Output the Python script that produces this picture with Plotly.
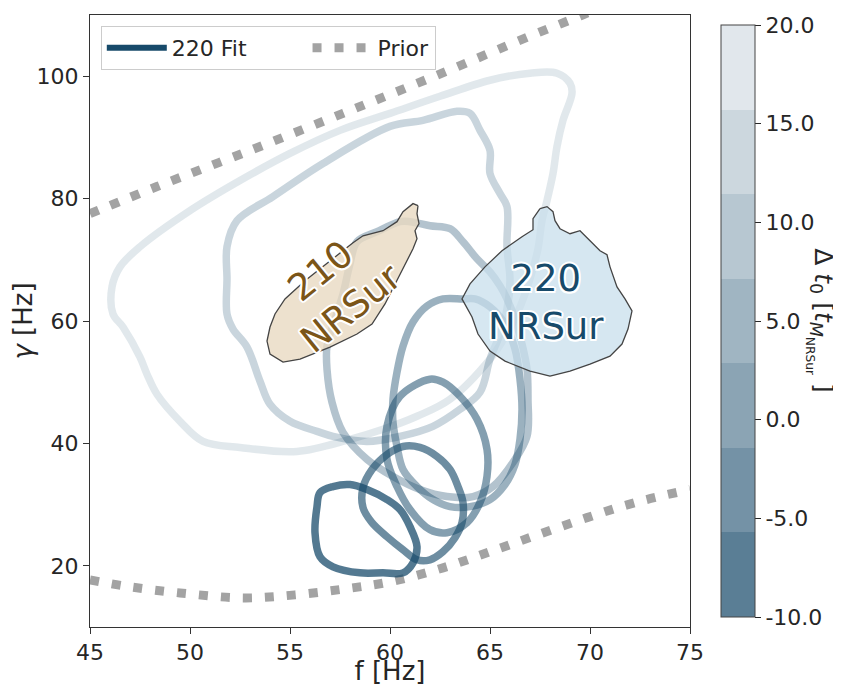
import plotly.graph_objects as go

# ---------------------------------------------------------------
# data (f in Hz, gamma in Hz)
# ---------------------------------------------------------------

band_edges = [-10, -5.71, -1.43, 2.86, 7.14, 11.43, 15.71, 20]
cbar_ticks = [-10, -5, 0, 5, 10, 15, 20]
cbar_ticktext = ["-10.0", "-5.0", "0.0", "5.0", "10.0", "15.0", "20.0"]

fit_f = [
    [56.35, 56.5, 57.15, 58.0, 58.85, 59.85, 60.5, 61.0, 61.35, 61.15, 60.65, 59.65,
     58.5, 57.15, 56.5, 56.25],
    [58.65, 59.1, 59.85, 60.65, 61.5, 62.35, 63.0, 63.4, 63.65, 63.6, 63.25, 62.65,
     62.0, 61.35, 60.65, 59.85, 59.1, 58.65],
    [62.0, 60.5, 59.85, 59.85, 60.35, 61.0, 62.0, 62.85, 63.85, 64.5, 64.85, 64.85,
     64.35, 63.5, 62.65],
    [63.65, 62.65, 61.85, 61.15, 60.65, 60.35, 60.15, 60.15, 60.35, 60.65, 61.35, 62.15,
     63.0, 64.0, 65.0, 65.75, 66.25, 66.5, 66.6, 66.5, 66.25, 65.75, 65.0, 64.25],
    [58.35, 59.35, 60.5, 61.0, 62.0, 63.0, 63.65, 64.35, 65.0, 65.5, 65.85, 66.25,
     66.6, 66.85, 66.9, 66.85, 66.15, 65.15, 64.15, 62.85, 61.5, 60.15, 58.85, 57.65,
     57.1, 56.85, 56.85, 57.25, 57.65, 58.0],
    [51.85, 51.85, 51.85, 52.35, 54.15, 56.65, 60.0, 61.65, 63.35, 64.0, 64.5, 65.0,
     65.0, 65.5, 65.85, 65.85, 66.0, 65.85, 65.5, 65.0, 64.5, 63.5, 62.15, 60.5, 58.85,
     57.15, 56.35, 55.0, 54.0, 53.5, 52.85, 52.15],
    [46.15, 46.1, 46.5, 47.5, 50.0, 52.5, 55.0, 57.5, 60.0, 62.5, 65.0, 67.0, 68.35,
     69.0, 69.1, 68.65, 68.35, 68.15, 67.85, 67.6, 67.4, 67.0, 66.4, 65.75, 65.0, 63.0,
     61.35, 59.65, 58.0, 55.35, 52.5, 50.65, 49.5, 48.35, 47.85, 47.5, 46.65],
]
fit_g = [
    [29.67, 31.97, 32.95, 33.28, 32.46, 30.82, 29.18, 26.39, 23.11, 20.49, 18.85, 18.85,
     18.85, 19.84, 21.48, 25.41],
    [32.79, 35.74, 38.2, 39.5, 39.34, 37.87, 35.74, 32.95, 30.33, 27.05, 24.59, 22.3,
     20.98, 20.98, 22.62, 24.75, 27.05, 29.51],
    [50.49, 47.7, 42.79, 37.38, 32.95, 29.18, 25.9, 25.41, 27.05, 30.33, 34.59, 39.02,
     43.93, 47.7, 50.0],
    [63.61, 63.61, 62.46, 59.84, 55.9, 51.64, 47.21, 43.44, 39.51, 35.74, 32.95, 30.82,
     29.67, 29.67, 30.82, 33.28, 36.56, 40.66, 45.57, 50.49, 55.41, 59.51, 62.3, 63.61],
    [72.95, 74.59, 76.23, 76.23, 75.57, 75.08, 72.95, 70.16, 68.03, 65.74, 63.61, 60.33,
     56.23, 52.13, 47.21, 41.15, 36.89, 32.95, 31.31, 31.31, 32.46, 34.59, 37.38, 41.8,
     46.72, 52.13, 55.9, 60.33, 64.43, 69.34],
    [61.15, 66.89, 72.13, 76.39, 80.33, 85.74, 91.8, 92.79, 94.26, 93.93, 91.15, 87.87,
     84.1, 80.82, 78.69, 72.13, 66.56, 61.97, 57.87, 53.77, 48.36, 45.57, 42.79, 41.15,
     40.33, 41.15, 41.97, 43.61, 46.39, 50.16, 55.74, 58.69],
    [61.15, 65.57, 68.85, 72.13, 78.03, 82.95, 87.38, 91.15, 93.93, 96.72, 99.34, 100.49,
     100.49, 98.85, 97.21, 92.79, 88.52, 84.1, 79.67, 76.39, 71.8, 66.89, 61.5, 57.4,
     53.77, 47.21, 44.43, 42.3, 40.66, 38.69, 39.34, 40.33, 43.61, 48.03, 51.31, 54.1,
     59.02],
]

prior_hi_f = [45.0, 48.35, 53.0, 57.65, 62.35, 67.0, 69.5, 71.0]
prior_hi_g = [77.54, 81.97, 87.87, 93.93, 100.16, 106.56, 109.84, 112.0]
prior_lo_f = [45.0, 47.0, 49.5, 52.65, 55.25, 57.75, 60.0, 62.65, 65.0, 67.4, 69.85, 72.25, 75.0]
prior_lo_g = [17.7, 16.56, 15.57, 14.75, 15.25, 16.23, 17.38, 19.67, 22.3, 25.08, 27.87, 30.33, 32.46]

nr210_f = [61.4, 61.15, 60.65, 60.35, 59.65, 58.65, 58.15, 57.0, 55.75, 54.75, 54.25, 54.0,
           53.85, 54.0, 54.65, 55.5, 57.0, 58.35, 59.1, 59.75, 60.5, 61.15, 61.35, 61.25,
           61.45, 61.35, 61.4]
nr210_g = [78.85, 79.18, 77.87, 76.23, 74.75, 73.93, 72.79, 69.84, 66.56, 63.61, 61.15, 59.02,
           56.72, 54.59, 53.28, 53.77, 55.74, 57.87, 59.51, 62.79, 67.7, 71.8, 73.44, 74.75,
           75.9, 77.54, 78.85]

nr220_f = [67.5, 67.85, 68.15, 68.25, 68.5, 69.0, 69.5, 70.0, 70.5, 70.85, 71.0, 71.35,
           71.75, 72.1, 71.9, 71.6, 71.0, 70.0, 69.0, 68.0, 67.0, 65.75, 65.0, 64.4, 64.1,
           63.6, 64.0, 64.75, 65.6, 66.6, 67.15, 67.15, 67.5]
nr220_g = [78.36, 78.69, 77.87, 76.39, 75.08, 74.26, 74.75, 73.11, 71.48, 70.82, 68.85, 65.57,
           63.61, 61.64, 58.69, 56.23, 54.26, 52.95, 51.8, 50.98, 51.8, 53.44, 55.08, 57.87,
           60.66, 63.61, 66.07, 68.85, 71.48, 73.77, 74.92, 76.72, 78.36]

# ---------------------------------------------------------------
# colours
# ---------------------------------------------------------------

NAVY = (23, 74, 106)
alphas = [0.74, 0.63, 0.53, 0.43, 0.33, 0.23, 0.13]
band_alphas = [0.71, 0.60, 0.50, 0.41, 0.31, 0.22, 0.13]


def navy(a):
    return f"rgba({NAVY[0]},{NAVY[1]},{NAVY[2]},{a})"


def blend(a):
    r, g, b = (round(255 - a * (255 - c)) for c in NAVY)
    return f"rgb({r},{g},{b})"


lo, hi = band_edges[0], band_edges[-1]
colorscale = []
for i in range(len(band_alphas)):
    c = blend(band_alphas[i])
    colorscale.append([(band_edges[i] - lo) / (hi - lo), c])
    colorscale.append([(band_edges[i + 1] - lo) / (hi - lo), c])

FONT = "DejaVu Sans"
INK = "#262626"
NBSP = "\u00a0"

fig = go.Figure()

# legend proxy for the fit (first, so it leads the legend)
fig.add_trace(go.Scatter(
    x=[None], y=[None], mode="lines", name="220 Fit" + NBSP * 8,
    line=dict(color="#174a6a", width=6)
))

# prior bounds
for xs, ys, show in [(prior_hi_f, prior_hi_g, True), (prior_lo_f, prior_lo_g, False)]:
    fig.add_trace(go.Scatter(
        x=xs, y=ys, mode="lines", name="Prior", showlegend=show,
        line=dict(color="#a3a3a3", width=9, dash="9px,13px", shape="spline"),
        hoverinfo="skip"
    ))

# fit contours, lightest first so dark ones sit on top
for k in reversed(range(len(fit_f))):
    xs = fit_f[k] + fit_f[k][:1]
    ys = fit_g[k] + fit_g[k][:1]
    fig.add_trace(go.Scatter(
        x=xs, y=ys, mode="lines", showlegend=False,
        line=dict(color=navy(alphas[k]), width=7.5, shape="spline", smoothing=1.0),
        hoverinfo="skip"
    ))

# NRSur regions
fig.add_trace(go.Scatter(
    x=nr210_f, y=nr210_g, mode="lines", fill="toself", showlegend=False,
    fillcolor="rgba(233,218,194,0.8)", line=dict(color="#444444", width=1.3),
    hoverinfo="skip"
))
fig.add_trace(go.Scatter(
    x=nr220_f, y=nr220_g, mode="lines", fill="toself", showlegend=False,
    fillcolor="rgba(200,223,236,0.75)", line=dict(color="#444444", width=1.3),
    hoverinfo="skip"
))

# colourbar carrier (point sits outside the axes)
fig.add_trace(go.Scatter(
    x=[40], y=[0], mode="markers", showlegend=False, hoverinfo="skip",
    marker=dict(
        color=[0], colorscale=colorscale, cmin=lo, cmax=hi, showscale=True,
        colorbar=dict(
            x=1.035, xanchor="left", y=0.5, yanchor="middle", len=1, lenmode="fraction",
            thickness=34, outlinecolor="#444444", outlinewidth=1,
            tickvals=cbar_ticks, ticktext=cbar_ticktext,
            ticks="outside", ticklen=6, tickcolor=INK,
            tickfont=dict(family=FONT, size=22, color=INK),
        ),
    ),
))

# colourbar label, reading top to bottom
fig.add_annotation(
    xref="paper", yref="paper", x=1.218, y=0.5, xanchor="center", yanchor="middle",
    showarrow=False, textangle=90,
    text="Δ <i>t</i><sub>0</sub> [<i>t</i><sub><i>M</i><sub>NRSur</sub></sub> ]",
    font=dict(family=FONT, size=25, color=INK)
)

halo = ("2px 0 0 white, -2px 0 0 white, 0 2px 0 white, 0 -2px 0 white, "
        "1.5px 1.5px 0 white, -1.5px -1.5px 0 white, 1.5px -1.5px 0 white, -1.5px 1.5px 0 white")

fig.add_annotation(
    x=57.3, y=65.1, text="210<br>NRSur", showarrow=False, textangle=-39,
    font=dict(family=FONT, size=37, color="#7b5518", shadow=halo)
)
fig.add_annotation(
    x=67.8, y=63.1, text="220<br>NRSur", showarrow=False,
    font=dict(family=FONT, size=37, color="#174a6a", shadow=halo)
)

# the page body adds an 8px margin, so the figure is sized and offset to suit
fig.update_layout(
    width=833, height=678,
    margin=dict(l=82, r=151, t=7, b=59, autoexpand=False),
    paper_bgcolor="white", plot_bgcolor="white",
    font=dict(family=FONT, color=INK),
    legend=dict(
        x=0.018, y=0.982, xanchor="left", yanchor="top", orientation="h",
        bgcolor="rgba(255,255,255,0.85)", bordercolor="#cccccc", borderwidth=1,
        font=dict(family=FONT, size=22, color=INK), itemwidth=60
    ),
    xaxis=dict(
        range=[45, 75], tickvals=[45, 50, 55, 60, 65, 70, 75],
        showgrid=False, zeroline=False, showline=True, linecolor="#333333", mirror=True,
        ticks="outside", ticklen=6, tickcolor="#333333",
        tickfont=dict(size=22, color=INK),
        title=dict(text="f [Hz]", font=dict(size=26, color=INK), standoff=4)
    ),
    yaxis=dict(
        range=[10, 110], tickvals=[20, 40, 60, 80, 100],
        showgrid=False, zeroline=False, showline=True, linecolor="#333333", mirror=True,
        ticks="outside", ticklen=6, tickcolor="#333333",
        tickfont=dict(size=22, color=INK),
        title=dict(text="<i>γ</i> [Hz]", font=dict(size=26, color=INK), standoff=10)
    ),
)

fig.write_html("out.html")
